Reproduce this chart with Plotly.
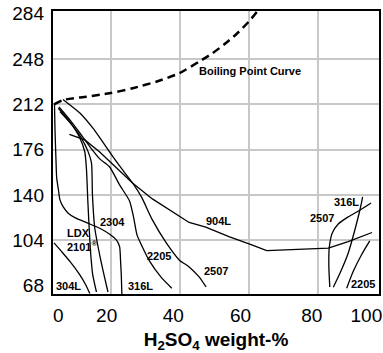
import plotly.graph_objects as go

# ---------------- data (H2SO4 weight-% vs temperature °F) ----------------
boil_x = [3.4, 6.1, 12.8, 19.5, 26.2, 33.0, 39.7, 45.4, 49.3, 53.1, 56.5, 59.8, 62.2, 63.3]
boil_y = [212, 215.5, 218.1, 220.8, 224.8, 230.0, 236.7, 245.9, 252.6, 260.5, 268.5, 277.7, 285.7, 291]

x_304l = [3.38, 5.68, 7.99, 10.87, 12.60, 13.75]
y_304l = [101.8, 94.6, 87.1, 76.4, 68.4, 61.6]

x_316l_low = [3.52, 3.67, 3.95, 4.16, 4.67, 5.11, 6.06, 7.50, 9.43, 12.80, 16.63, 19.51, 21.44, 22.39, 22.68, 22.88, 23.05]
y_316l_low = [212.3, 191.6, 168.2, 153.5, 143.9, 136.0, 130.4, 125.4, 121.9, 117.9, 113.5, 108.7, 104.2, 98.8, 86.9, 76.4, 61.2]

x_ldx = [4.62, 7.99, 10.87, 12.31, 12.80, 13.17, 13.60, 14.04, 14.61, 15.68]
y_ldx = [208.9, 198.0, 185.3, 174.1, 159.8, 136.0, 112.1, 92.2, 76.4, 62.8]

x_2304 = [5.11, 8.56, 11.36, 13.26, 14.24, 14.52, 15.19, 16.63, 18.07, 19.02]
y_2304 = [206.2, 195.6, 185.0, 174.4, 165.4, 140.0, 113.7, 92.2, 74.0, 62.8]

x_2205_low = [4.82, 7.99, 10.87, 13.75, 16.63, 19.51, 22.39, 25.27, 26.42, 27.43, 28.72, 31.03, 34.34, 37.51]
y_2205_low = [209.9, 199.6, 189.2, 178.4, 168.6, 162.2, 147.9, 135.2, 122.5, 108.2, 100.2, 87.5, 74.8, 65.8]

x_2507_low = [5.97, 10.87, 14.61, 17.49, 20.08, 22.39, 26.13, 28.72, 31.89, 35.92, 39.67, 42.54, 45.43, 47.45]
y_2507_low = [215.9, 205.1, 193.2, 182.1, 171.8, 163.0, 149.5, 138.4, 120.1, 101.8, 88.3, 82.7, 74.8, 66.8]

x_904l = [7.84, 12.31, 16.63, 20.95, 26.13, 31.89, 37.65, 42.54, 47.36, 54.07, 60.69, 65.01, 72.21, 80.00, 82.87, 88.63, 95.54]
y_904l = [188.1, 183.7, 174.1, 163.0, 149.5, 136.8, 126.4, 118.1, 114.3, 106.8, 100.2, 95.7, 96.5, 97.3, 97.6, 102.8, 110.1]

x_2507_high = [83.30, 83.02, 83.16, 84.02, 85.75, 88.63, 92.09, 95.26]
y_2507_high = [66.8, 84.3, 98.6, 109.7, 116.9, 122.5, 128.0, 133.6]

x_316l_high = [84.31, 86.24, 88.63, 90.56, 91.80, 92.66, 92.8]
y_316l_high = [66.6, 77.7, 93.6, 112.1, 125.4, 136.0, 138.4]

x_2205_high = [88.2, 90.07, 92.46, 94.88]
y_2205_high = [65.8, 79.0, 92.2, 103.4]

# curve labels
label_text = ["Boiling Point Curve", "2304", "2205", "304L", "316L", "904L", "2507", "2507", "316L", "2205"]
label_x = [60.3, 20.4, 33.8, 7.7, 28.4, 51.1, 50.3, 81.1, 88.1, 93.0]
label_y = [238.8, 118.7, 91.5, 67.6, 67.6, 119.5, 79.5, 121.9, 134.6, 69.0]
ldx_text = ["LDX", "2101<sup>®</sup>"]
ldx_y = [109.5, 99.4]

# axis ticks
y_tick_vals = [68, 104, 140, 176, 212, 248, 284]
y_grid_vals = [104, 140, 176, 212, 248]
x_grid_vals = [20, 40, 60, 80]
x_tick_text = ["0", "20", "40", "60", "80", "100"]

# ---------------- layout constants ----------------
X_RANGE = [3.09, 97.56]
Y_RANGE = [61.2, 286.2]
X_LABEL_POS = [4.62, 18.64, 37.94, 57.44, 78.06, 93.9]
LDX_X = 6.55
FONT = "Liberation Sans, Arial, Helvetica, sans-serif"

fig = go.Figure()

curves = [
    (x_304l, y_304l), (x_316l_low, y_316l_low), (x_ldx, y_ldx), (x_2304, y_2304),
    (x_2205_low, y_2205_low), (x_2507_low, y_2507_low),
    (x_2507_high, y_2507_high), (x_316l_high, y_316l_high), (x_2205_high, y_2205_high),
]
for cx, cy in curves:
    fig.add_trace(go.Scatter(x=cx, y=cy, mode="lines", showlegend=False, hoverinfo="skip",
                             line=dict(color="black", width=1.3, shape="spline", smoothing=0.6)))
fig.add_trace(go.Scatter(x=x_904l, y=y_904l, mode="lines", showlegend=False, hoverinfo="skip",
                         line=dict(color="black", width=1.3)))
fig.add_trace(go.Scatter(x=boil_x, y=boil_y, mode="lines", showlegend=False, hoverinfo="skip",
                         line=dict(color="black", width=2.5, dash="8px,5px", shape="spline", smoothing=0.6)))
# carrier for the label axes
fig.add_trace(go.Scatter(x=[None], y=[None], xaxis="x2", yaxis="y2", showlegend=False, hoverinfo="skip"))

for t, lx, ly in zip(label_text, label_x, label_y):
    fig.add_annotation(x=lx, y=ly, text=t, showarrow=False, xanchor="center", yanchor="middle",
                       font=dict(family=FONT, size=11, color="black", weight="bold"))
for t, ly in zip(ldx_text, ldx_y):
    fig.add_annotation(x=LDX_X, y=ly, text=t, showarrow=False, xanchor="left", yanchor="middle",
                       font=dict(family=FONT, size=11, color="black", weight="bold"))

axis_line = dict(showline=True, linecolor="black", linewidth=2, mirror=True, zeroline=False, ticks="")

fig.update_layout(
    width=383, height=353,
    margin=dict(l=53, r=2, t=11, b=59),
    paper_bgcolor="white", plot_bgcolor="white",
    font=dict(family=FONT, color="black"),
    xaxis=dict(range=X_RANGE, tickmode="array", tickvals=x_grid_vals, showticklabels=False,
               showgrid=True, gridcolor="#c8c8c8", gridwidth=1.5, **axis_line),
    yaxis=dict(range=Y_RANGE, tickmode="array", tickvals=y_grid_vals, showticklabels=False,
               showgrid=True, gridcolor="#c8c8c8", gridwidth=1.5, **axis_line),
    xaxis2=dict(range=X_RANGE, overlaying="x", anchor="y2", side="bottom",
                tickmode="array", tickvals=X_LABEL_POS, ticktext=x_tick_text,
                showgrid=False, zeroline=False, showline=False, ticks="",
                ticklabelstandoff=8, tickfont=dict(size=19, color="black"),
                title=dict(text="<b>H<sub>2</sub>SO<sub>4</sub> weight-%</b>", standoff=9,
                           font=dict(size=19, color="black"))),
    yaxis2=dict(range=Y_RANGE, overlaying="y", anchor="x2", side="left",
                tickmode="array", tickvals=y_tick_vals, ticktext=[str(v) for v in y_tick_vals],
                showgrid=False, zeroline=False, showline=False, ticks="",
                ticklabelstandoff=8, tickfont=dict(size=19, color="black")),
)

fig.write_html("out.html", config={"displayModeBar": False},
               post_script="document.body.style.margin='0';document.body.style.overflow='hidden';")
